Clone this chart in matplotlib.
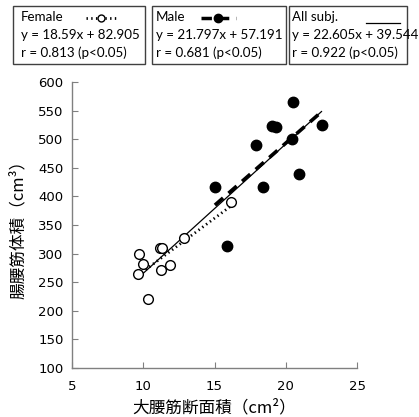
import numpy as np
import matplotlib.pyplot as plt
from matplotlib.lines import Line2D
from matplotlib.patches import Rectangle

# 女性（白丸）
female_x = [9.70, 9.98, 9.63, 10.33, 11.17, 11.31, 11.22, 11.87, 12.85, 16.17]
female_y = [299, 282, 264, 221, 309, 309, 272, 280, 327, 391]
# 男性（黒丸）
male_x = [20.48, 19.00, 19.35, 22.51, 17.93, 20.45, 20.95, 15.03, 18.38, 15.90]
male_y = [565, 523, 522, 525, 490, 501, 440, 417, 417, 314]

fit_female = (18.59, 82.905)
fit_male = (21.797, 57.191)
fit_all = (22.605, 39.544)

legend_titles = ["Female", "Male", "All subj."]
legend_eq = ["y = 18.59x + 82.905", "y = 21.797x + 57.191", "y = 22.605x + 39.544"]
legend_r = ["r = 0.813 (p<0.05)", "r = 0.681 (p<0.05)", "r = 0.922 (p<0.05)"]

xticks = [5, 10, 15, 20, 25]
yticks = list(range(100, 601, 50))

jp = ['Noto Sans CJK JP', 'DejaVu Sans']

W, H = 419, 417
fig = plt.figure(figsize=(W / 100, H / 100), dpi=100)
ax = fig.add_axes([72 / W, (H - 368) / H, (357 - 72) / W, (368 - 82) / H])

all_x = np.array(female_x + male_x)

def fit_line(xs, coef, **kw):
    xs = np.array([min(xs), max(xs)])
    ax.plot(xs, coef[0] * xs + coef[1], **kw)

fit_line(all_x, fit_all, color='black', lw=0.9, zorder=2)
fit_line(female_x, fit_female, color='black', lw=2.0, ls=(0, (0.5, 1.2)), zorder=3)
fit_line(male_x, fit_male, color='black', lw=2.6, ls=(0, (3, 2)), zorder=3)

ax.plot(female_x, female_y, 'o', ms=7, mfc='white', mec='black', mew=1.0, zorder=4)
ax.plot(male_x, male_y, 'o', ms=7.5, mfc='black', mec='black', zorder=4)

ax.set_xlim(5, 25)
ax.set_ylim(100, 600)
ax.set_xticks(xticks)
ax.set_yticks(yticks)
for s in ['top', 'right']:
    ax.spines[s].set_visible(False)
for s in ['left', 'bottom']:
    ax.spines[s].set_color('#808080')
    ax.spines[s].set_linewidth(1.0)
ax.tick_params(direction='in', length=4, color='#808080', labelsize=9.5, pad=6)
ax.tick_params(axis='x', pad=9)

ax.set_xlabel('大腰筋断面積（cm²）', family=jp, fontsize=12, labelpad=4)
ax.set_ylabel('腸腰筋体積（cm³）', family=jp, fontsize=12, labelpad=8)

# 凡例ボックス
boxes = [(13, 145), (152, 286), (289, 407)]
text_x = [21, 156, 292]
top, bottom = 6, 64
for i, (x0, x1) in enumerate(boxes):
    fig.patches.append(Rectangle((x0 / W, 1 - bottom / H), (x1 - x0) / W, (bottom - top) / H,
                                 transform=fig.transFigure, fill=False, ec='#404040', lw=1.0))
    tx = text_x[i] / W
    fig.text(tx, 1 - 17 / H, legend_titles[i], fontsize=9.6, family='Lato', va='center')
    fig.text(tx, 1 - 35 / H, legend_eq[i], fontsize=9.6, family='Lato', va='center')
    fig.text(tx, 1 - 53 / H, legend_r[i], fontsize=9.6, family='Lato', va='center')

fig.lines.append(Line2D([86 / W, 116 / W], [1 - 18 / H] * 2, transform=fig.transFigure,
                        color='black', lw=2, ls=(0, (0.5, 1.2))))
fig.lines.append(Line2D([101 / W], [1 - 18 / H], transform=fig.transFigure, marker='o',
                        ms=5, mfc='white', mec='black', mew=1.0))
fig.lines.append(Line2D([201 / W, 236 / W], [1 - 18 / H] * 2, transform=fig.transFigure,
                        color='black', lw=2.5, ls=(0, (3, 2))))
fig.lines.append(Line2D([218 / W], [1 - 18 / H], transform=fig.transFigure, marker='o',
                        ms=6, mfc='black', mec='black'))
fig.lines.append(Line2D([366 / W, 400 / W], [1 - 23 / H] * 2, transform=fig.transFigure,
                        color='black', lw=0.9))

fig.savefig('out.png', dpi=100)
